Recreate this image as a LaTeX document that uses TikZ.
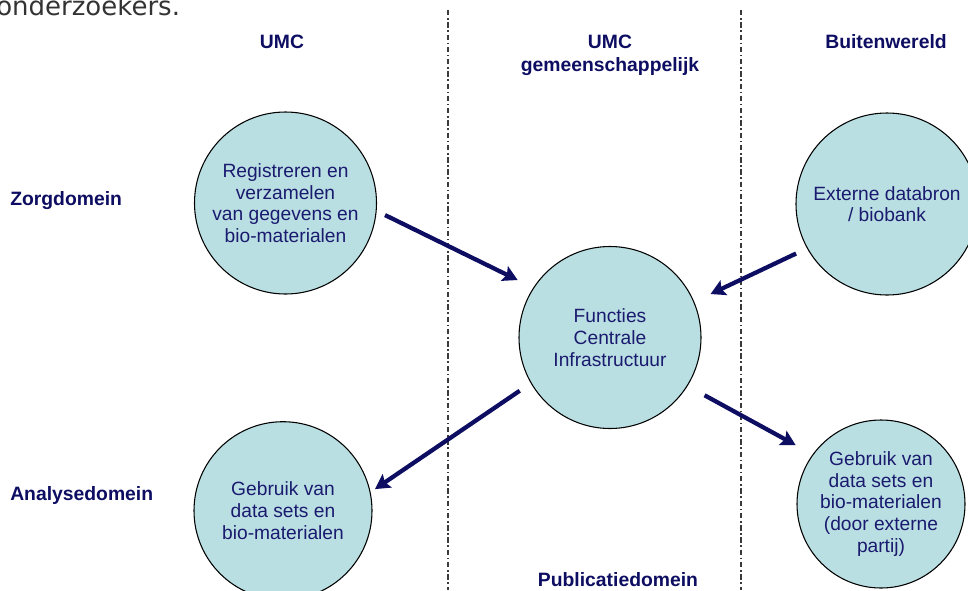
\documentclass[tikz,border=0pt]{standalone}
\usepackage{fontspec}
\setmainfont{Liberation Sans}
\newfontfamily\topfont{DejaVu Sans}
\usetikzlibrary{arrows.meta}
\definecolor{navy}{HTML}{0D0D62}
\definecolor{txtnavy}{HTML}{1A1A6E}
\definecolor{bubble}{HTML}{B9DFE3}
\definecolor{sep}{HTML}{3A3A3A}
\tikzset{
  bubble/.style={circle, draw=black, line width=0.8pt, fill=bubble, inner sep=0pt,
    minimum size=#1*0.75pt, text=txtnavy, font=\fontsize{14.4}{16.3}\selectfont, align=center},
  head/.style={text=navy, font=\fontsize{14.5}{17.5}\selectfont\bfseries, align=center, inner sep=0pt},
  arr/.style={draw=navy, line width=3.2pt, -{Stealth[length=11pt,width=12pt,inset=2pt]}},
  sepline/.style={draw=sep, line width=1pt, dash pattern=on 4pt off 2pt on 1.2pt off 2pt}
}
\begin{document}
\begin{tikzpicture}[x=0.75pt,y=-0.75pt]
\path[use as bounding box] (0,0) rectangle (968,590);
\clip (0,0) rectangle (968,590);
% partial line of text at the top
\node[anchor=base west, inner sep=0pt, text=black!80, font=\topfont\fontsize{19.5}{21}\selectfont] (toptext) at (-4,15.5) {onderzoekers.};
% column separators
\coordinate (s1t) at (448,10); \coordinate (s1b) at (448,590);
\coordinate (s2t) at (741,10); \coordinate (s2b) at (741,590);
\draw[sepline] (s1t) -- (s1b);
\draw[sepline] (s2t) -- (s2b);
% headings
\node[head] (h1) at (282,42) {UMC};
\node[head] (h2) at (610,55) {UMC\\gemeenschappelijk};
\node[head] (h3) at (886,42) {Buitenwereld};
\node[head, anchor=west] (d1) at (10,201) {Zorgdomein};
\node[head, anchor=west] (d2) at (10,495) {Analysedomein};
\node[head] (d3) at (618,580) {Publicatiedomein};
% bubbles
\node[bubble=182] (c1) at (285.5,203) {Registreren en\\verzamelen\\van gegevens en\\bio-materialen};
\node[bubble=182] (cen) at (610,337.5) {Functies\\Centrale\\Infrastructuur};
\node[bubble=182] (ext) at (887,204) {Externe databron\\/ biobank};
\node[bubble=178] (bl) at (283,510.7) {Gebruik van\\data sets en\\bio-materialen};
\node[bubble=168] (br) at (881,504) {Gebruik van\\data sets en\\bio-materialen\\(door externe\\partij)};
% arrows
\draw[arr, shorten <=7pt, shorten >=13pt] (c1.-5.5) -- (cen.147);
\draw[arr, shorten <=9pt, shorten >=13.5pt] (ext.209.5) -- (cen.23.75);
\draw[arr, shorten <=10pt, shorten >=4pt] (cen.210) -- (bl.12.9);
\draw[arr, shorten <=14.5pt, shorten >=14.5pt] (cen.-32.8) -- (br.144);
\end{tikzpicture}
\end{document}
